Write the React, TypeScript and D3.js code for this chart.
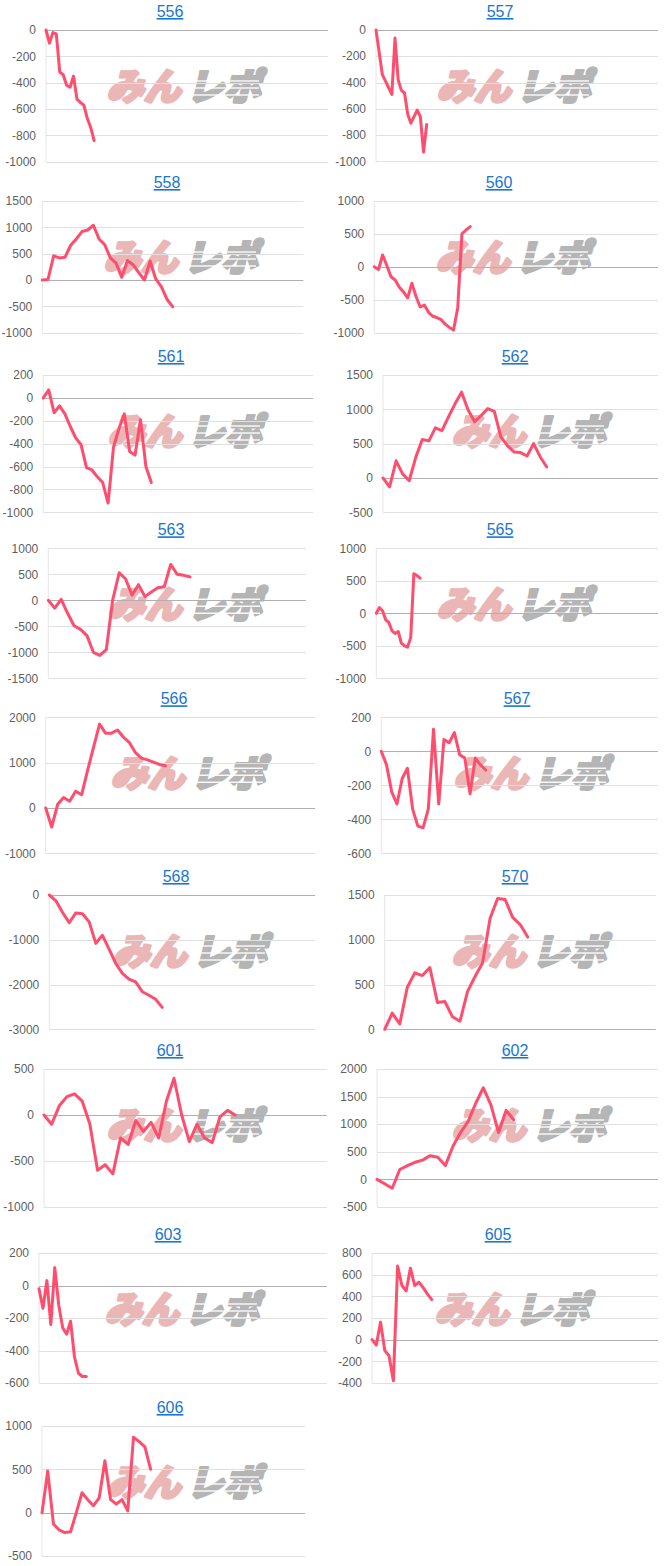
import React from "react";
import * as d3 from "d3";

// ---------- DATA ----------
const titles = ["556", "557", "558", "560", "561", "562", "563", "565", "566", "567", "568", "570", "601", "602", "603", "605", "606"];

const s556 = [0, -100, -20, -30, -320, -340, -420, -435, -350, -525, -550, -570, -670, -740, -840];
const s557 = [0, -170, -340, -390, -440, -490, -60, -380, -460, -480, -640, -710, -660, -610, -660, -930, -720];
const s558 = [0, 10, 460, 420, 430, 660, 780, 920, 950, 1040, 780, 670, 420, 320, 50, 370, 290, 140, 0, 360, 20, -130, -370, -510];
const s560 = [0, -40, 180, 20, -150, -200, -310, -380, -470, -250, -450, -610, -580, -690, -750, -770, -800, -870, -920, -960, -620, 500, 560, 610];
const s561 = [0, 70, -130, -70, -140, -250, -350, -410, -610, -630, -690, -740, -920, -430, -270, -140, -470, -500, -190, -600, -740];
const s562 = [0, -130, 250, 60, -40, 300, 560, 540, 730, 690, 890, 1080, 1250, 990, 820, 910, 1010, 970, 600, 470, 380, 370, 320, 500, 310, 160];
const s563 = [0, -150, 20, -250, -490, -560, -680, -1000, -1060, -950, 10, 530, 410, 100, 300, 70, 160, 240, 260, 690, 500, 480, 450];
const s565 = [0, 90, 40, -100, -140, -270, -310, -280, -460, -500, -520, -370, 610, 580, 540];
const s566 = [0, -420, 80, 230, 150, 370, 290, 830, 1340, 1850, 1650, 1650, 1720, 1560, 1440, 1220, 1100, 1060, 1010, 960, 930];
const s567 = [0, -80, -240, -310, -160, -100, -340, -440, -450, -340, 130, -310, 70, 50, 110, -20, -40, -250, -40, -80, -110];
const s568 = [0, -130, -390, -620, -400, -420, -600, -1080, -900, -1210, -1530, -1750, -1880, -1940, -2160, -2240, -2330, -2510];
const s570 = [0, 180, 60, 470, 630, 600, 690, 300, 310, 140, 90, 420, 590, 740, 1240, 1460, 1450, 1250, 1170, 1030];
const s601 = [0, -100, 100, 200, 230, 150, -100, -600, -540, -640, -250, -320, -60, -180, -80, -250, 150, 400, 0, -290, -100, -250, -300, -20, 50, 0];
const s602 = [0, -80, -160, 180, 250, 310, 350, 430, 400, 250, 600, 850, 1050, 1380, 1660, 1350, 850, 1250, 1080];
const s603 = [-20, -140, 30, -240, 110, -120, -260, -300, -220, -440, -540, -560, -560];
const s605 = [0, -50, 160, -100, -150, -380, 680, 500, 450, 660, 500, 530, 480, 420, 370];
const s606 = [0, 480, -130, -200, -230, -220, 0, 230, 150, 80, 170, 600, 150, 100, 150, 20, 870, 820, 760, 500];

const series = [s556, s557, s558, s560, s561, s562, s563, s565, s566, s567, s568, s570, s601, s602, s603, s605, s606];
const xSlots = [82, 89, 46, 68, 50, 42, 40, 90, 45, 53, 40, 36, 37, 37, 73, 67, 46];
const yMins = [-1000, -1000, -1000, -1000, -1000, -500, -1500, -1000, -1000, -600, -3000, 0, -1000, -500, -600, -400, -500];
const yMaxs = [0, 0, 1500, 1000, 200, 1500, 1000, 1000, 2000, 200, 0, 1500, 500, 2000, 200, 800, 1000];
const ySteps = [200, 200, 500, 500, 200, 500, 500, 500, 1000, 200, 1000, 500, 500, 500, 200, 200, 500];

// ---------- LAYOUT (page coordinates) ----------
const plotLefts = [46, 376, 42.3, 374.3, 43.3, 383, 48.3, 376.3, 45.7, 381.3, 49.3, 384.7, 44, 377, 39, 372, 42];
const plotRights = [328, 658, 303.3, 658, 313.3, 658, 306, 658, 315, 658, 315, 655.7, 327, 658, 327, 658, 305];
const plotTops = [30, 30, 201, 201, 375, 375, 548.3, 548.3, 717.3, 717.3, 895, 895, 1069, 1069, 1253, 1253, 1426];
const plotBottoms = [161.7, 161.3, 332.7, 332.7, 512.3, 512.3, 678.3, 678.3, 853.3, 853.3, 1029.3, 1029.3, 1207, 1207, 1383, 1383, 1556];
const titleCx = [170, 500, 167, 499, 171, 515, 171, 500, 174, 517, 176, 515, 170, 515, 168, 498, 170];

const LINE_COLOR = "#ff4d6d";
const TICK_FONT = "Arial, 'Liberation Sans', sans-serif";

function Logo({ cx, cy }: { cx: number; cy: number }) {
  const stripes = [-6, 1, 8];
  return (
    <g transform={`translate(${cx},${cy})`}>
      <g transform="skewX(-14)">
        <text
          x={-3}
          y={13}
          textAnchor="end"
          fontFamily="'Noto Sans CJK JP', sans-serif"
          fontWeight={900}
          fontSize={37}
          fill="#ebb6b6"
          stroke="#ebb6b6"
          strokeWidth={3}
          strokeLinejoin="round"
        >
          みん
        </text>
        <text
          x={3}
          y={13}
          textAnchor="start"
          fontFamily="'Noto Sans CJK JP', sans-serif"
          fontWeight={900}
          fontSize={37}
          fill="#b5b5b5"
          stroke="#b5b5b5"
          strokeWidth={3}
          strokeLinejoin="round"
        >
          レポ
        </text>
      </g>
      {stripes.map((sy, i) => (
        <line key={i} x1={2} x2={72} y1={sy} y2={sy} stroke="#ffffff" strokeWidth={1.6} opacity={0.9} />
      ))}
    </g>
  );
}

function Panel({ idx }: { idx: number }) {
  const data = series[idx];
  const left = plotLefts[idx];
  const right = plotRights[idx];
  const top = plotTops[idx];
  const bottom = plotBottoms[idx];
  const x = d3.scaleLinear().domain([0, xSlots[idx]]).range([left, right]);
  const y = d3.scaleLinear().domain([yMins[idx], yMaxs[idx]]).range([bottom, top]);
  const ticks = d3.range(yMins[idx], yMaxs[idx] + ySteps[idx] / 2, ySteps[idx]);
  const line = d3
    .line<number>()
    .x((_, i) => x(i))
    .y((v) => y(v));
  const cx = titleCx[idx];
  return (
    <g>
      <Logo cx={cx + 17} cy={top + 57} />
      <text
        x={cx}
        y={top - 13}
        textAnchor="middle"
        fontFamily={TICK_FONT}
        fontSize={16}
        fill="#1976d2"
        style={{ textDecoration: "underline" }}
      >
        {titles[idx]}
      </text>
      <line x1={left} x2={left} y1={top} y2={bottom} stroke="#e6e6e6" strokeWidth={1} />
      {ticks.map((t) => (
        <g key={t}>
          <line
            x1={left}
            x2={right}
            y1={Math.round(y(t)) + 0.5}
            y2={Math.round(y(t)) + 0.5}
            stroke={t === 0 ? "#b0b0b0" : "#e0e0e0"}
            strokeWidth={1}
          />
          <text
            x={left - 10}
            y={y(t)}
            dy="0.35em"
            textAnchor="end"
            fontFamily={TICK_FONT}
            fontSize={12}
            fill="#5f5f5f"
          >
            {String(t)}
          </text>
        </g>
      ))}
      <path
        d={line(data) || ""}
        fill="none"
        stroke={LINE_COLOR}
        strokeWidth={3}
        strokeLinejoin="round"
        strokeLinecap="round"
      />
    </g>
  );
}

export default function App() {
  return (
    <svg
      width={666}
      height={1566}
      viewBox="0 0 666 1566"
      style={{ position: "absolute", left: 0, top: 0, background: "#ffffff" }}
    >
      <rect x={0} y={0} width={666} height={1566} fill="#ffffff" />
      {titles.map((_, i) => (
        <Panel key={i} idx={i} />
      ))}
    </svg>
  );
}
